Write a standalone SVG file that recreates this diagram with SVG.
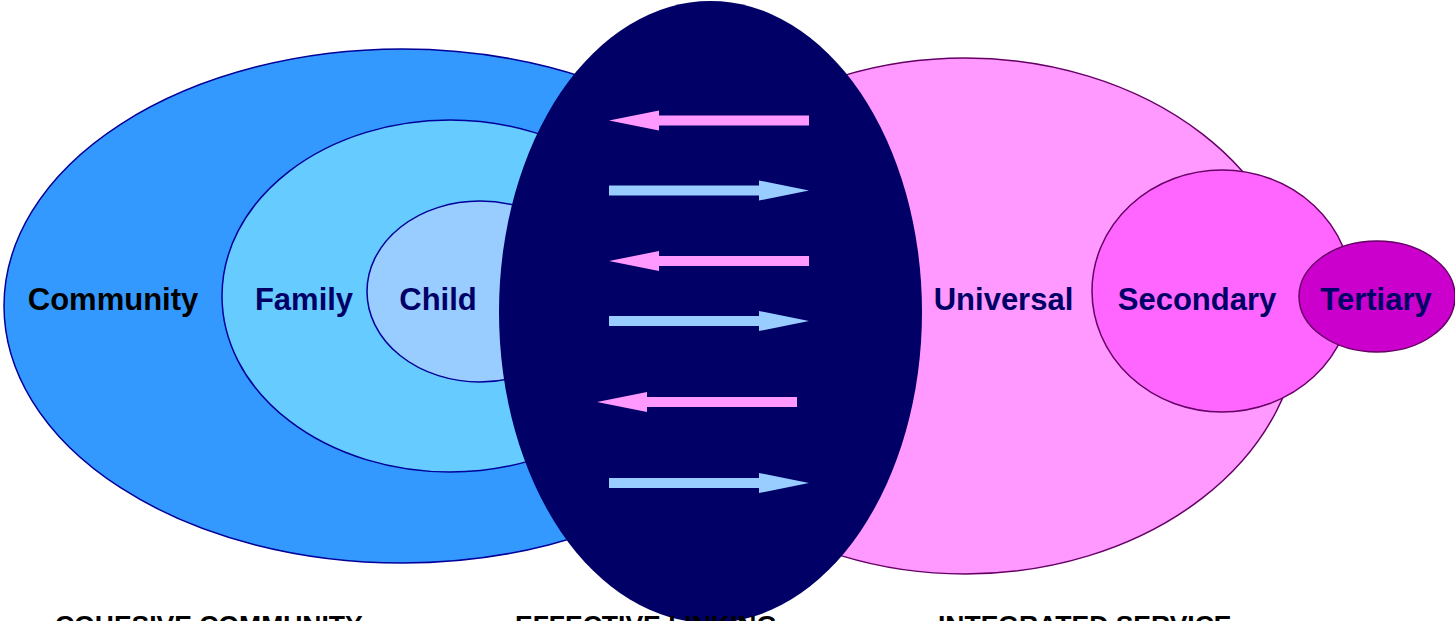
<svg xmlns="http://www.w3.org/2000/svg" xmlns:xlink="http://www.w3.org/1999/xlink" width="1455" height="621" viewBox="0 0 1455 621">
  <style>
    .blue-ring { stroke: #000099; stroke-width: 1.5; }
    .pink-ring { stroke: #660066; stroke-width: 1.5; }
    .label { font-family: "Liberation Sans", Arial, sans-serif; font-weight: bold; font-size: 31px; text-anchor: middle; fill: #000066; }
    .caption { font-family: "Liberation Sans", Arial, sans-serif; font-weight: bold; font-size: 26.5px; fill: #000000; }
    .to-left { fill: #FF99FF; }
    .to-right { fill: #99CCFF; }
  </style>
  <defs>
    <!-- block arrow pointing left, tip at origin -->
    <path id="arrow-left" d="M0,0 L50,-10 L50,-5 L200,-5 L200,5 L50,5 L50,10 Z"/>
    <!-- block arrow pointing right, tail at origin -->
    <path id="arrow-right" d="M0,-5 L150,-5 L150,-10 L200,0 L150,10 L150,5 L0,5 Z"/>
  </defs>

  <rect width="1455" height="621" fill="#FFFFFF"/>

  <g id="community">
    <ellipse class="blue-ring" cx="402" cy="306" rx="398" ry="257" fill="#3399FF"/>
    <text class="label" x="113" y="310" style="fill:#000000">Community</text>
  </g>
  <g id="family">
    <ellipse class="blue-ring" cx="450" cy="296" rx="228" ry="176" fill="#66CCFF"/>
    <text class="label" x="304" y="310">Family</text>
  </g>
  <g id="child">
    <ellipse class="blue-ring" cx="480" cy="291.5" rx="113" ry="90.5" fill="#99CCFF"/>
    <text class="label" x="438" y="310">Child</text>
  </g>

  <g id="universal">
    <ellipse class="pink-ring" cx="965" cy="316" rx="335" ry="258" fill="#FF99FF"/>
    <text class="label" x="1003.5" y="310">Universal</text>
  </g>
  <g id="secondary">
    <ellipse class="pink-ring" cx="1222" cy="291" rx="130" ry="121" fill="#FF66FF"/>
    <text class="label" x="1197" y="310">Secondary</text>
  </g>
  <g id="tertiary">
    <ellipse class="pink-ring" cx="1377" cy="296.5" rx="78" ry="55.5" fill="#CC00CC"/>
    <text class="label" x="1376" y="310">Tertiary</text>
  </g>

  <g id="linking">
    <ellipse cx="710.5" cy="312" rx="211.5" ry="311" fill="#000066"/>
  </g>

  <g id="connectors">
    <use xlink:href="#arrow-left" class="to-left" x="609" y="120.5"/>
    <use xlink:href="#arrow-right" class="to-right" x="609" y="190.5"/>
    <use xlink:href="#arrow-left" class="to-left" x="609" y="261"/>
    <use xlink:href="#arrow-right" class="to-right" x="609" y="321"/>
    <use xlink:href="#arrow-left" class="to-left" x="597" y="402"/>
    <use xlink:href="#arrow-right" class="to-right" x="609" y="483"/>
  </g>

  <!-- captions sit below the page edge, only their upper part is in view -->
  <g id="captions">
    <text class="caption" x="55" y="634">COHESIVE COMMUNITY</text>
    <text class="caption" x="515" y="634">EFFECTIVE LINKING</text>
    <text class="caption" x="938" y="634">INTEGRATED SERVICE</text>
  </g>
</svg>
